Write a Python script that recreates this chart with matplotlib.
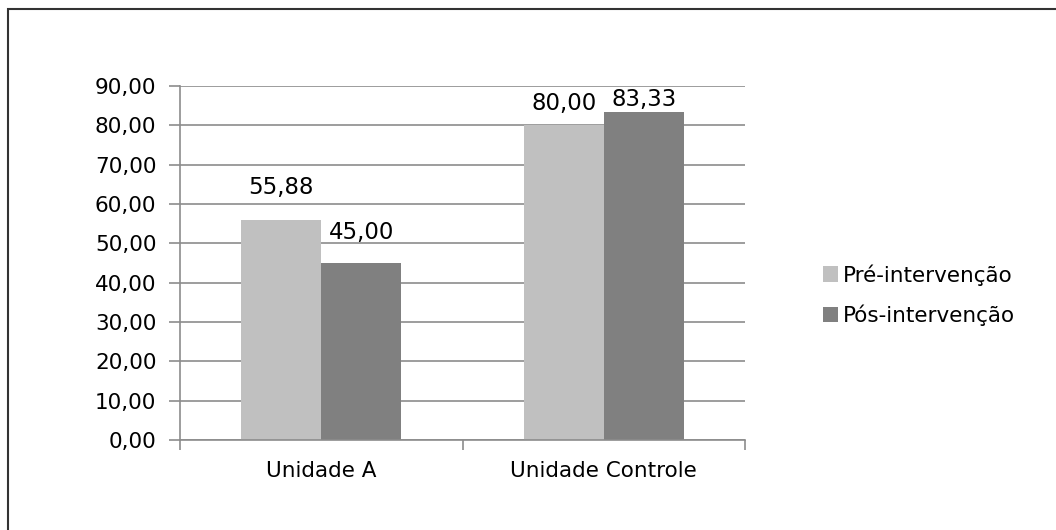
import matplotlib.pyplot as plt
from matplotlib.patches import Rectangle
import numpy as np

categories = ['Unidade A', 'Unidade Controle']
pre = [55.88, 80.00]
pos = [45.00, 83.33]
series_names = ['Pré-intervenção', 'Pós-intervenção']
# label offsets above each bar, in points (labels were hand-placed in the original)
pre_offsets = [18.7, 10.8]
pos_offsets = [17.3, 4.3]

plt.rcParams['font.family'] = ['DejaVu Sans']

W, H = 1056, 530
fig = plt.figure(figsize=(W / 100, H / 100), dpi=100)
ax = fig.add_axes([180 / W, 1 - 440 / H, 565 / W, 354 / H])

# outer chart border (only top/left inside the picture)
fig.patches.append(Rectangle((8 / W, -0.1), 1.2, 1 - 9 / H + 0.1, transform=fig.transFigure,
                             fill=False, edgecolor='#333333', linewidth=1.5))

x = np.arange(len(categories))
w = 80 / 282.5
b1 = ax.bar(x - w / 2, pre, w, color='#c0c0c0', label=series_names[0], zorder=2)
b2 = ax.bar(x + w / 2, pos, w, color='#808080', label=series_names[1], zorder=2)


def fmt(v):
    return f'{v:.2f}'.replace('.', ',')


for bars, offs in ((b1, pre_offsets), (b2, pos_offsets)):
    for b, off in zip(bars, offs):
        ax.annotate(fmt(b.get_height()), (b.get_x() + b.get_width() / 2, b.get_height()),
                    xytext=(0, off), textcoords='offset points', ha='center', va='baseline',
                    fontsize=16.5)

ax.set_xlim(-0.5, 1.5)
ax.set_ylim(0, 90)
ax.set_yticks(range(0, 91, 10))
ax.set_yticklabels([fmt(v) for v in range(0, 91, 10)], fontsize=15.5)
ax.yaxis.grid(True, color='#8c8c8c', linewidth=1.2, zorder=0)
ax.set_axisbelow(True)
ax.tick_params(axis='y', length=8, color='#8c8c8c', width=1.2, pad=9)

ax.set_xticks(x)
ax.set_xticklabels(categories, fontsize=15.5)
ax.tick_params(axis='x', which='major', length=0, pad=15)
ax.set_xticks([-0.5, 0.5, 1.5], minor=True)
ax.tick_params(axis='x', which='minor', length=7, color='#8c8c8c', width=1.2)

for s in ['top', 'right']:
    ax.spines[s].set_visible(False)
for s in ['left', 'bottom']:
    ax.spines[s].set_color('#8c8c8c')
    ax.spines[s].set_linewidth(1.2)

fig.legend(handles=[b1, b2], labels=series_names, loc='center left',
           bbox_to_anchor=(823 / W, 1 - 295 / H), frameon=False, fontsize=15.5,
           handlelength=0.7, handleheight=0.7, handletextpad=0.23, labelspacing=0.88,
           borderaxespad=0, borderpad=0)

fig.savefig('out.png', dpi=100)
